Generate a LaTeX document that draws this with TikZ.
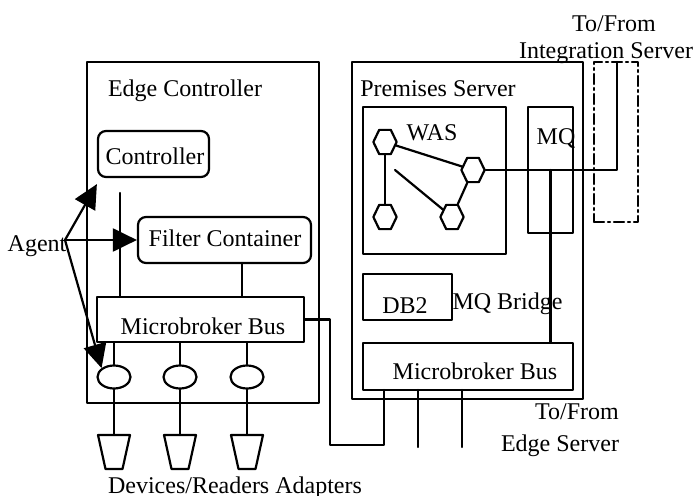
\documentclass[tikz,border=0pt]{standalone}
\usepackage{fontspec}
\setmainfont{Liberation Serif}
\usetikzlibrary{arrows.meta,shapes.geometric}
\begin{document}
\begin{tikzpicture}[x=0.5pt, y=-0.5pt, font=\fontsize{12}{14}\selectfont, line width=1.1pt, line join=round, line cap=round, >={Triangle[length=12pt,width=11.5pt]},
  box/.style={draw, inner sep=0pt},
  hex/.style={draw, regular polygon, regular polygon sides=6, minimum size=14pt, inner sep=0pt, xscale=0.83, transform shape},
  port/.style={draw, ellipse, minimum width=16.5pt, minimum height=11.5pt, inner sep=0pt},
  txt/.style={anchor=base, inner sep=0pt}]
\useasboundingbox (0,0) rectangle (694,496);
% edge controller
\node[box, minimum width=116pt, minimum height=170.5pt] (edge) at (203,232.5) {};
\node[box, rounded corners=4pt, minimum width=55.5pt, minimum height=23pt] (ctrl) at (153.5,154) {};
\node[box, rounded corners=4pt, minimum width=86.5pt, minimum height=23pt] (filter) at (224.5,240) {};
\node[box, minimum width=103.5pt, minimum height=22.5pt] (ebus) at (200.5,319.5) {};
\node[txt] at (185,97) {Edge Controller};
\node[txt] at (155,165) {Controller};
\node[txt] at (225,247) {Filter Container};
\node[txt] at (203,334) {Microbroker Bus};
\coordinate (ctap) at (120,193);
\coordinate (fout) at (242,263);
\draw (ctap) -- (ctap |- ebus.north);
\draw (fout) -- (fout |- ebus.north);
\foreach \i/\x in {1/114, 2/180, 3/247} {
  \node[port] (e\i) at (\x,377) {};
  \coordinate (a\i) at (\x,435);
  \draw (e\i.north |- ebus.south) -- (e\i.north);
  \draw (e\i.south) -- (a\i);
  \draw (a\i) ++(-16,0) -- ++(32,0) -- ++(-7.5,34) -- ++(-17,0) -- cycle;
}
\node[txt] at (235,493) {Devices/Readers Adapters};
% agent
\node[txt] (agent) at (37,251) {Agent};
\coordinate (asrc) at (65,240);
\draw[->] (asrc) -- ([yshift=-3pt]ctrl.south west);
\draw[->] (asrc) -- (filter.west);
\draw[->] (asrc) -- (e1.north west);
% premises server
\node[box, minimum width=115.5pt, minimum height=168.5pt] (prem) at (467.5,230.5) {};
\node[box, minimum width=71.5pt, minimum height=73.5pt] (was) at (434.5,180.5) {};
\node[box, minimum width=22.5pt, minimum height=63pt] (mq) at (550.5,170) {};
\node[box, minimum width=44.5pt, minimum height=23pt] (db2) at (407.5,297) {};
\node[box, minimum width=105pt, minimum height=23.5pt] (pbus) at (468,366.5) {};
\node[box, dash pattern=on 5pt off 2pt on 1pt off 2pt, minimum width=22pt, minimum height=80pt] (ilink) at (616,142) {};
\node[txt] at (438,97) {Premises Server};
\node[txt] at (432,141) {WAS};
\node[txt] at (556,145) {MQ};
\node[txt] at (405,313) {DB2};
\node[txt] at (507.5,309) {MQ Bridge};
\node[txt] at (475,379) {Microbroker Bus};
\node[txt] at (614,32) {To/From};
\node[txt] at (606,59) {Integration Server};
\node[txt] at (577,419) {To/From};
\node[txt] at (560,451) {Edge Server};
\node[hex] (h1) at (385,142) {};
\node[hex] (h2) at (385,217) {};
\node[hex] (h3) at (452,217) {};
\node[hex] (h4) at (473,170) {};
\coordinate (wfree) at (395,170);
\draw (h1) -- (h4);
\draw (h1) -- (h2);
\draw (wfree) -- (h3);
\draw (h3) -- (h4);
\coordinate (iout) at (617,62);
\draw (h4.east) -| (iout);
\draw (mq.center) -- (mq.center |- pbus.north);
% links between servers
\coordinate (bend) at (330,445);
\coordinate (p1) at (384,390);
\draw (ebus.east) -| (bend) -| (p1);
\foreach \i/\x in {2/418, 3/462} {
  \coordinate (p\i) at (\x,390);
  \draw (p\i) -- ++(0,57);
}
\end{tikzpicture}
\end{document}
